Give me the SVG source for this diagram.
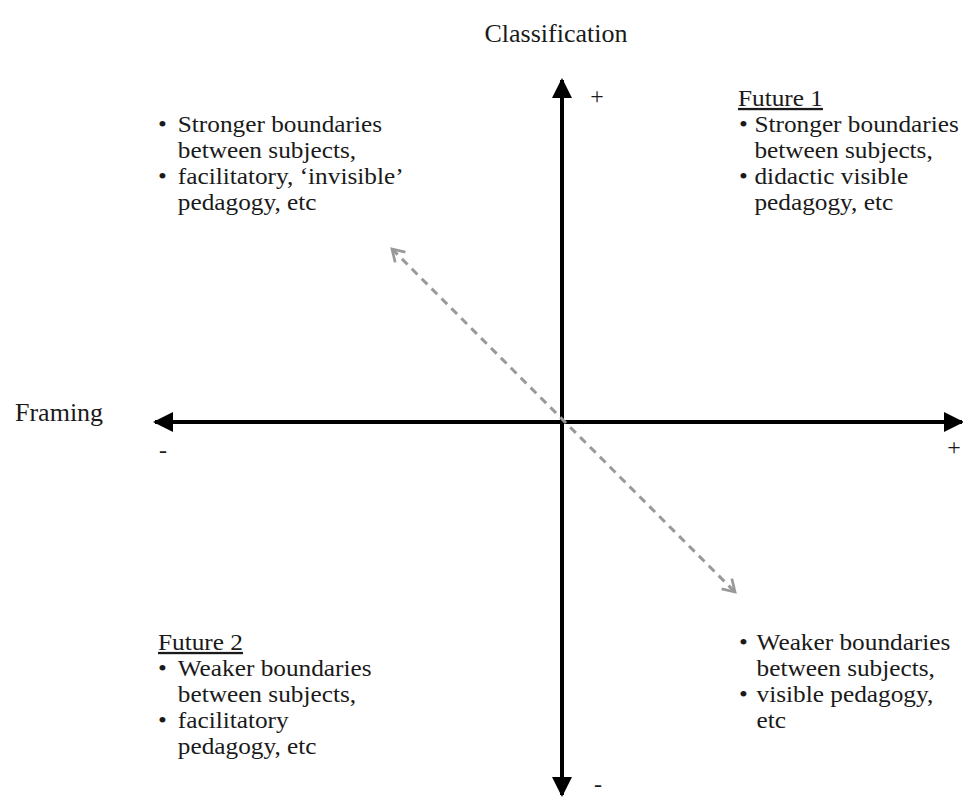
<svg xmlns="http://www.w3.org/2000/svg" width="963" height="797" viewBox="0 0 963 797">
  <defs>
    <style>
      text { font-family: "Liberation Serif", "Times New Roman", serif; font-size: 23px; fill: #1a1a1a; }
      .title { font-size: 26px; }
      .sign { font-size: 24px; }
      .u { text-decoration: underline; }
      .axis { stroke: #000; stroke-width: 4; fill: none; }
      .diag { stroke: #999; stroke-width: 3; stroke-dasharray: 8 6; fill: none; }
    </style>
    <marker id="ah" viewBox="0 0 20 20" refX="18" refY="10" markerWidth="20" markerHeight="20" markerUnits="userSpaceOnUse" orient="auto-start-reverse">
      <path d="M0,0 L20,10 L0,20 Z" fill="#000"/>
    </marker>
    <marker id="oh" viewBox="0 0 20 20" refX="17" refY="10" markerWidth="18" markerHeight="18" markerUnits="userSpaceOnUse" orient="auto-start-reverse">
      <path d="M4,2 L17,10 L4,18" fill="none" stroke="#999" stroke-width="3"/>
    </marker>
  </defs>
  <rect width="963" height="797" fill="#fff"/>

  <g id="connectors">
    <line class="axis" x1="562" y1="80" x2="562" y2="795" marker-start="url(#ah)" marker-end="url(#ah)"/>
    <line class="axis" x1="155" y1="422" x2="962" y2="422" marker-start="url(#ah)" marker-end="url(#ah)"/>
    <line class="diag" x1="392" y1="249" x2="735" y2="592" marker-start="url(#oh)" marker-end="url(#oh)"/>
  </g>

  <g id="classification-label">
    <text class="title" x="556" y="42" text-anchor="middle">Classification</text>
    <text class="sign" x="597" y="104" text-anchor="middle">+</text>
    <text class="sign" x="598" y="792" text-anchor="middle">-</text>
  </g>

  <g id="framing-label">
    <text class="title" x="15" y="421">Framing</text>
    <text class="sign" x="163" y="458" text-anchor="middle">-</text>
    <text class="sign" x="954" y="455" text-anchor="middle">+</text>
  </g>

  <g id="top-left" transform="matrix(1.1 0 0 1 -15.8 0)">
    <text x="158" y="132">•</text>
    <text x="176" y="132">Stronger boundaries</text>
    <text x="176" y="158">between subjects,</text>
    <text x="158" y="184">•</text>
    <text x="176" y="184">facilitatory, ‘invisible’</text>
    <text x="176" y="210">pedagogy, etc</text>
  </g>

  <g id="future-1" transform="matrix(1.1 0 0 1 -73.8 0)">
    <text class="u" x="738" y="106">Future 1</text>
    <text x="739" y="132">•</text>
    <text x="753" y="132">Stronger boundaries</text>
    <text x="753" y="158">between subjects,</text>
    <text x="739" y="184">•</text>
    <text x="753" y="184">didactic visible</text>
    <text x="753" y="210">pedagogy, etc</text>
  </g>

  <g id="future-2" transform="matrix(1.1 0 0 1 -15.8 0)">
    <text class="u" x="158" y="650">Future 2</text>
    <text x="158" y="676">•</text>
    <text x="176" y="676">Weaker boundaries</text>
    <text x="176" y="702">between subjects,</text>
    <text x="158" y="728">•</text>
    <text x="176" y="728">facilitatory</text>
    <text x="176" y="754">pedagogy, etc</text>
  </g>

  <g id="bottom-right" transform="matrix(1.1 0 0 1 -73.9 0)">
    <text x="739" y="650">•</text>
    <text x="755" y="650">Weaker boundaries</text>
    <text x="755" y="676">between subjects,</text>
    <text x="739" y="702">•</text>
    <text x="755" y="702">visible pedagogy,</text>
    <text x="755" y="728">etc</text>
  </g>
</svg>
